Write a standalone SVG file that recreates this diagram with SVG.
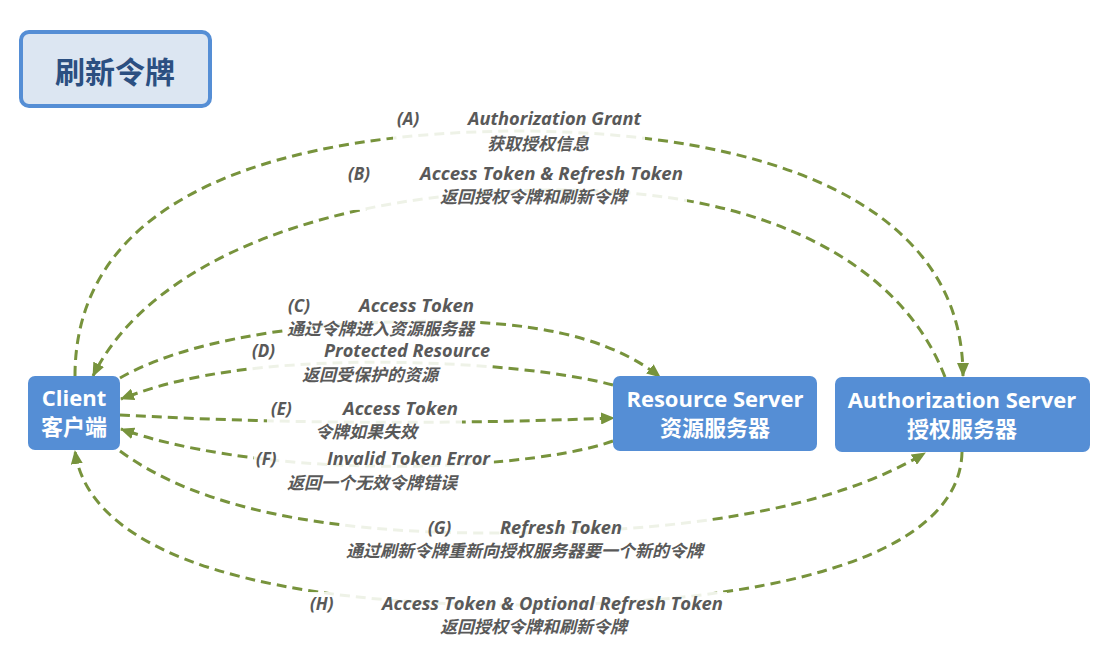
<svg xmlns="http://www.w3.org/2000/svg" width="1109" height="663" viewBox="0 0 1109 663">
<defs>
<marker id="arr" viewBox="0 0 14 12" refX="13" refY="6" markerWidth="14" markerHeight="12" markerUnits="userSpaceOnUse" orient="auto">
<path d="M0,0 L14,6 L0,12 z" fill="#77933c"/>
</marker>
<style>
.conn{fill:none;stroke:#77933c;stroke-width:3;stroke-dasharray:10 6;}
.bg{fill:#ffffff;fill-opacity:0.88;}
.lbl{font-family:"Open Sans","Noto Sans CJK SC",sans-serif;font-weight:bold;font-style:italic;font-size:17px;fill:#595959;}
.node{fill:#558ed5;}
.nt{font-family:"Open Sans","Noto Sans CJK SC",sans-serif;font-weight:bold;font-size:22px;fill:#ffffff;text-anchor:middle;}
</style>
</defs>
<rect width="1109" height="663" fill="#ffffff"/>

<g id="title">
<rect x="21" y="32" width="189" height="74" rx="8" fill="#dce6f2" stroke="#558ed5" stroke-width="4"/>
<text x="115" y="83" font-family="Noto Sans CJK SC,sans-serif" font-weight="bold" font-size="30" fill="#2b4f81" text-anchor="middle">刷新令牌</text>
</g>

<g id="connectors">
<path id="A" class="conn" d="M75 376 C75 190 290 132 520 131 C760 132 963 200 963 376" marker-end="url(#arr)"/>
<path id="B" class="conn" d="M945 377 C900 260 760 190 560 190 C330 190 150 260 93 376" marker-end="url(#arr)"/>
<path id="C" class="conn" d="M120 378 C200 332 350 318 470 322 C560 326 620 345 660 377" marker-end="url(#arr)"/>
<path id="D" class="conn" d="M613 385 C540 366 420 360 330 363 C230 367 170 380 121 399" marker-end="url(#arr)"/>
<path id="E" class="conn" d="M120 415 Q360 428 614 418" marker-end="url(#arr)"/>
<path id="F" class="conn" d="M613 441 C560 460 450 468 370 466 C270 464 180 450 121 429" marker-end="url(#arr)"/>
<path id="G" class="conn" d="M120 451 C200 510 330 532 480 533 C680 534 830 510 925 453" marker-end="url(#arr)"/>
<path id="H" class="conn" d="M962 452 C960 560 760 605 520 605 C280 605 90 560 75 451" marker-end="url(#arr)"/>
</g>

<g id="labels">
<rect class="bg" x="393" y="108" width="252" height="48"/>
<rect class="bg" x="345" y="162" width="342" height="48"/>
<rect class="bg" x="283" y="295" width="195" height="46"/>
<rect class="bg" x="250" y="340" width="242" height="47"/>
<rect class="bg" x="267" y="398" width="195" height="46"/>
<rect class="bg" x="254" y="448" width="240" height="46"/>
<rect class="bg" x="342" y="516" width="365" height="46"/>
<rect class="bg" x="307" y="592" width="420" height="46"/>

<text class="lbl" x="397" y="125">(A)</text>
<text class="lbl" x="468" y="125" textLength="173" lengthAdjust="spacingAndGlyphs">Authorization Grant</text>
<text class="lbl" x="487" y="150">获取授权信息</text>

<text class="lbl" x="348" y="180">(B)</text>
<text class="lbl" x="420" y="180" textLength="263" lengthAdjust="spacingAndGlyphs">Access Token &amp; Refresh Token</text>
<text class="lbl" x="440" y="203">返回授权令牌和刷新令牌</text>

<text class="lbl" x="288" y="312">(C)</text>
<text class="lbl" x="359" y="312" textLength="115" lengthAdjust="spacingAndGlyphs">Access Token</text>
<text class="lbl" x="287" y="335">通过令牌进入资源服务器</text>

<text class="lbl" x="252" y="357">(D)</text>
<text class="lbl" x="324" y="357" textLength="166" lengthAdjust="spacingAndGlyphs">Protected Resource</text>
<text class="lbl" x="302" y="381">返回受保护的资源</text>

<text class="lbl" x="271" y="415">(E)</text>
<text class="lbl" x="343" y="415" textLength="115" lengthAdjust="spacingAndGlyphs">Access Token</text>
<text class="lbl" x="315" y="438">令牌如果失效</text>

<text class="lbl" x="256" y="465">(F)</text>
<text class="lbl" x="327" y="465" textLength="163" lengthAdjust="spacingAndGlyphs">Invalid Token Error</text>
<text class="lbl" x="287" y="489">返回一个无效令牌错误</text>

<text class="lbl" x="428" y="534">(G)</text>
<text class="lbl" x="500" y="534" textLength="122" lengthAdjust="spacingAndGlyphs">Refresh Token</text>
<text class="lbl" x="346" y="557">通过刷新令牌重新向授权服务器要一个新的令牌</text>

<text class="lbl" x="310" y="610">(H)</text>
<text class="lbl" x="382" y="610" textLength="341" lengthAdjust="spacingAndGlyphs">Access Token &amp; Optional Refresh Token</text>
<text class="lbl" x="440" y="633">返回授权令牌和刷新令牌</text>
</g>

<g id="client">
<rect class="node" x="28" y="376" width="92" height="74" rx="7"/>
<text class="nt" x="74" y="406">Client</text>
<text class="nt" x="74" y="435">客户端</text>
</g>

<g id="resource-server">
<rect class="node" x="613" y="376" width="204" height="75" rx="7"/>
<text class="nt" x="715" y="407">Resource Server</text>
<text class="nt" x="715" y="436">资源服务器</text>
</g>

<g id="authorization-server">
<rect class="node" x="835" y="377" width="255" height="75" rx="7"/>
<text class="nt" x="962" y="408">Authorization Server</text>
<text class="nt" x="962" y="437">授权服务器</text>
</g>
</svg>
